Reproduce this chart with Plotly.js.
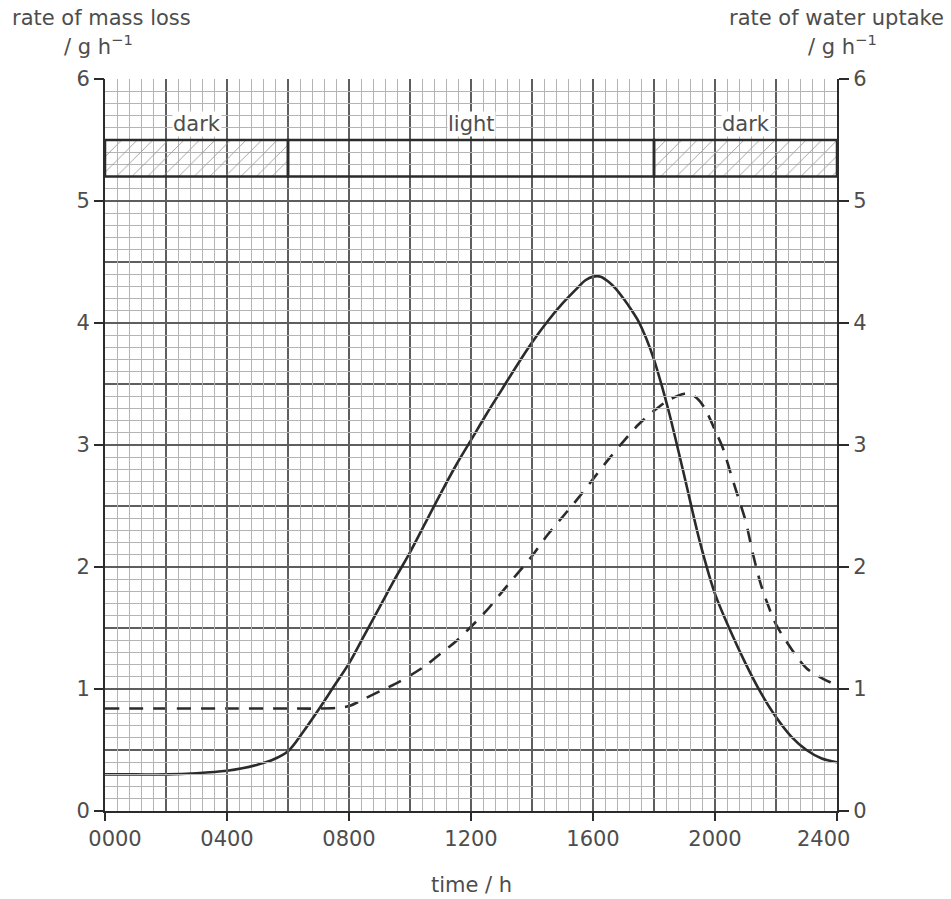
<!DOCTYPE html>
<html>
<head>
<meta charset="utf-8">
<script src="https://cdn.plot.ly/plotly-3.0.1.min.js"></script>
<style>html,body{margin:0;padding:0;background:#fff;}#chart{width:951px;height:899px;}</style>
</head>
<body>
<div id="chart"></div>
<script>
// time of day (hhmm as number) and rates (g h^-1)
const massLossTime = [0, 100, 200, 300, 400, 450, 500, 550, 600, 650, 700, 750, 800, 850, 900, 950, 1000, 1050, 1100, 1150, 1200, 1250, 1300, 1350, 1400, 1450, 1500, 1550, 1575, 1600, 1625, 1650, 1675, 1700, 1725, 1750, 1775, 1800, 1825, 1850, 1900, 1950, 2000, 2050, 2100, 2150, 2200, 2250, 2300, 2350, 2400];
const massLossRate = [0.30, 0.30, 0.30, 0.31, 0.33, 0.35, 0.38, 0.42, 0.49, 0.65, 0.83, 1.02, 1.21, 1.44, 1.67, 1.90, 2.12, 2.36, 2.60, 2.83, 3.04, 3.25, 3.45, 3.65, 3.84, 4.01, 4.16, 4.29, 4.35, 4.38, 4.38, 4.34, 4.28, 4.20, 4.11, 4.01, 3.87, 3.70, 3.49, 3.26, 2.74, 2.21, 1.78, 1.48, 1.21, 0.97, 0.77, 0.61, 0.50, 0.43, 0.40];

const waterTime = [0, 200, 400, 600, 700, 760, 800, 850, 900, 950, 1000, 1050, 1100, 1150, 1200, 1250, 1300, 1350, 1400, 1450, 1500, 1550, 1600, 1650, 1700, 1750, 1800, 1850, 1900, 1925, 1950, 1975, 2000, 2025, 2050, 2075, 2100, 2125, 2150, 2175, 2200, 2250, 2300, 2350, 2400];
const waterRate = [0.84, 0.84, 0.84, 0.84, 0.84, 0.845, 0.86, 0.92, 0.98, 1.04, 1.11, 1.19, 1.29, 1.39, 1.51, 1.64, 1.79, 1.94, 2.09, 2.26, 2.41, 2.56, 2.72, 2.88, 3.03, 3.17, 3.28, 3.37, 3.42, 3.41, 3.36, 3.26, 3.12, 2.98, 2.78, 2.58, 2.38, 2.10, 1.86, 1.68, 1.53, 1.33, 1.17, 1.09, 1.03];

// light / dark periods
const periodNames = ['dark', 'light', 'dark'];
const periodStart = [0, 600, 1800];
const periodEnd = [600, 1800, 2400];
const barBase = 5.2;
const barTop = 5.5;

const xTickVals = [0, 400, 800, 1200, 1600, 2000, 2400];
const xTickText = ['0000', '0400', '0800', '1200', '1600', '2000', '2400'];
const yTickVals = [0, 1, 2, 3, 4, 5, 6];

const ink = '#2b2b2b';
const textCol = '#4d4d4d';
const font = {family: 'DejaVu Sans, sans-serif', size: 21, color: textCol};

// graph-paper grid: fine lines that do not sit on a coarse line
const xFine = [];
for (let t = 0; t <= 2400; t += 40) if (t % 200 !== 0) xFine.push(t);
const yFine = [];
for (let i = 0; i <= 60; i++) if (i % 5 !== 0) yFine.push(i / 10);

// end labels sit inside the axis ends, as in the original
const NB = '\u00a0';
const xTickLabels = xTickText.map((t, i) => i === 0 ? NB.repeat(3) + t : (i === xTickText.length - 1 ? t + NB.repeat(4) : t));

const periodMid = periodStart.map((s, i) => (s + periodEnd[i]) / 2);
const periodWidth = periodStart.map((s, i) => periodEnd[i] - s);

const traces = [
  {
    type: 'bar', x: periodMid, width: periodWidth,
    y: periodStart.map(() => barTop - barBase), base: barBase,
    xaxis: 'x2', yaxis: 'y',
    marker: {
      color: 'rgba(0,0,0,0)',
      line: {color: ink, width: 2.5},
      pattern: {shape: periodNames.map(n => n === 'dark' ? '/' : ''), fgcolor: '#9a9a9a', bgcolor: 'rgba(0,0,0,0)', size: 11, solidity: 0.08}
    },
    hoverinfo: 'skip', showlegend: false
  },
  {
    type: 'scatter', mode: 'lines', x: massLossTime, y: massLossRate,
    xaxis: 'x', yaxis: 'y2',
    line: {color: ink, width: 2.6, shape: 'spline', smoothing: 0.9},
    showlegend: false
  },
  {
    type: 'scatter', mode: 'lines', x: waterTime, y: waterRate,
    xaxis: 'x', yaxis: 'y3',
    line: {color: ink, width: 2.6, dash: '14px,10px', shape: 'spline', smoothing: 0.9},
    showlegend: false
  }
];

const L = 105, T = 79, W = 732, H = 732;
const px = (p) => (p - L) / W;
const py = (p) => (T + H - p) / H;

const annotations = periodNames.map((n, i) => ({
  text: n, x: periodMid[i], y: 5.63, xref: 'x', yref: 'y',
  showarrow: false, bgcolor: '#fff', borderpad: 0, font: font
}));
annotations.push(
  {text: 'rate of mass loss', xref: 'paper', yref: 'paper', x: px(10), y: py(18), xanchor: 'left', yanchor: 'middle', showarrow: false, font: font},
  {text: '/ g h<sup>−1</sup>', xref: 'paper', yref: 'paper', x: px(98), y: py(45), xanchor: 'center', yanchor: 'middle', showarrow: false, font: font},
  {text: 'rate of water uptake', xref: 'paper', yref: 'paper', x: px(946), y: py(18), xanchor: 'right', yanchor: 'middle', showarrow: false, font: font},
  {text: '/ g h<sup>−1</sup>', xref: 'paper', yref: 'paper', x: px(842), y: py(45), xanchor: 'center', yanchor: 'middle', showarrow: false, font: font},
  {text: 'time / h', xref: 'paper', yref: 'paper', x: 0.5, y: py(885), xanchor: 'center', yanchor: 'middle', showarrow: false, font: font}
);

const fine = '#b4b4b4';
const coarse = '#5e5e5e';

const layout = {
  width: 951, height: 899,
  margin: {l: L, r: 951 - L - W, t: T, b: 899 - T - H, pad: 0},
  paper_bgcolor: '#fff', plot_bgcolor: 'rgba(0,0,0,0)',
  font: font,
  showlegend: false,
  // fine graph-paper grid
  xaxis: {
    range: [0, 2400], tickmode: 'array', tickvals: xFine, showticklabels: false, ticks: '',
    showgrid: true, gridcolor: fine, gridwidth: 1,
    showline: true, linecolor: ink, linewidth: 2, zeroline: false, fixedrange: true
  },
  yaxis: {
    range: [0, 6], tickmode: 'array', tickvals: yFine, showticklabels: false, ticks: '',
    showgrid: true, gridcolor: fine, gridwidth: 1,
    showline: true, linecolor: ink, linewidth: 2, zeroline: false, fixedrange: true
  },
  // labelled axes carrying the coarse grid
  xaxis2: {
    overlaying: 'x', anchor: 'y', side: 'bottom', range: [0, 2400],
    tickmode: 'array', tickvals: xTickVals, ticktext: xTickLabels,
    ticks: 'outside', ticklen: 9, tickwidth: 1.5, tickcolor: ink,
    showgrid: true, gridcolor: coarse, gridwidth: 2,
    minor: {tickmode: 'linear', tick0: 0, dtick: 200, showgrid: true, gridcolor: coarse, gridwidth: 2, ticks: ''},
    zeroline: false, showline: false, tickfont: font, fixedrange: true
  },
  yaxis2: {
    overlaying: 'y', anchor: 'x', side: 'left', range: [0, 6],
    tickmode: 'array', tickvals: yTickVals, ticks: 'outside', ticklen: 10, tickwidth: 1.5, tickcolor: ink,
    showgrid: true, gridcolor: coarse, gridwidth: 2,
    minor: {tickmode: 'linear', tick0: 0, dtick: 0.5, showgrid: true, gridcolor: coarse, gridwidth: 2, ticks: ''},
    zeroline: false, showline: false, tickfont: font, fixedrange: true
  },
  yaxis3: {
    overlaying: 'y', anchor: 'x', side: 'right', range: [0, 6],
    tickmode: 'array', tickvals: yTickVals, ticks: 'outside', ticklen: 10, tickwidth: 1.5, tickcolor: ink,
    showgrid: false, zeroline: false, showline: true, linecolor: ink, linewidth: 2, tickfont: font, fixedrange: true
  },
  annotations: annotations
};

Plotly.newPlot('chart', traces, layout, {displayModeBar: false, staticPlot: true});
</script>
</body>
</html>
